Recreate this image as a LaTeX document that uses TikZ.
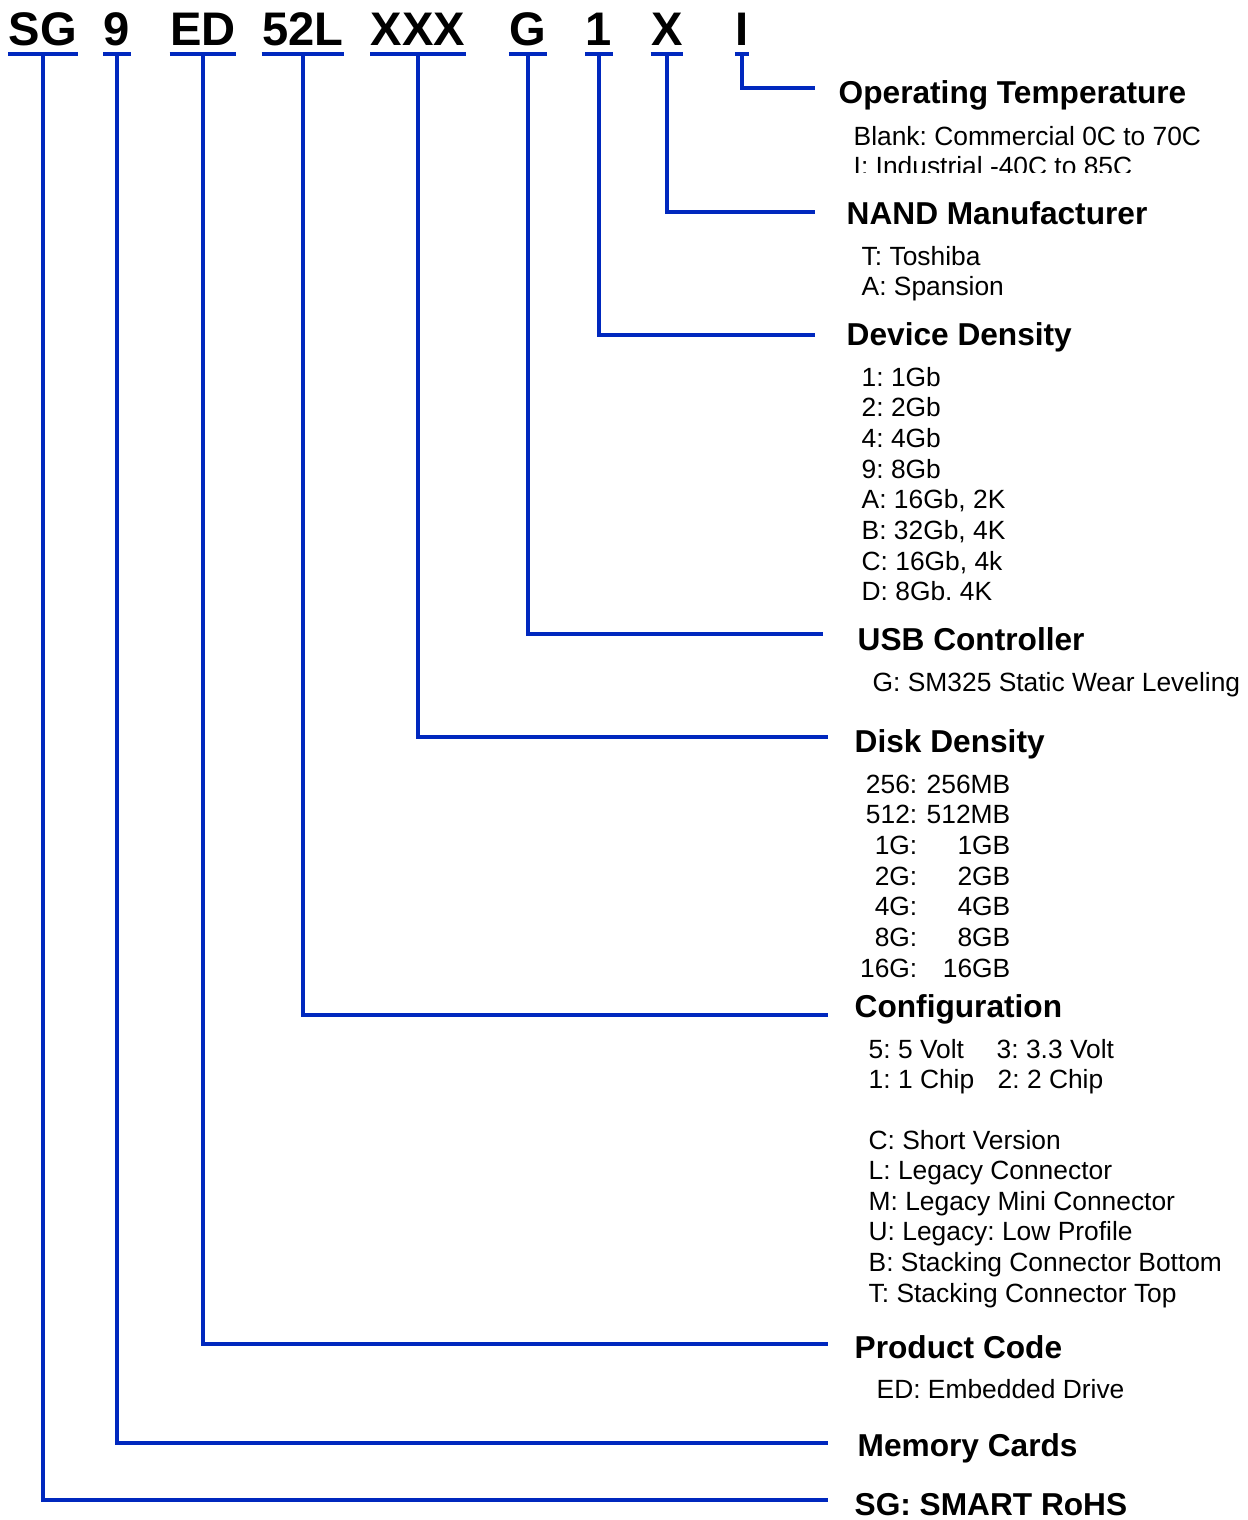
\documentclass[tikz,border=0pt]{standalone}
\usepackage{fontspec}
\setsansfont{Liberation Sans}
\usepackage{xcolor}
\usepackage{tikz}
\usetikzlibrary{positioning,calc}
\definecolor{linkblue}{RGB}{0,40,190}
\frenchspacing

\begin{document}
\begin{tikzpicture}[
  x=0.01cm, y=-0.01cm,
  every node/.style={font=\sffamily}
]
  % Styles
  \tikzstyle{code} = [anchor=base, inner xsep=0pt, inner ysep=0.08cm, text depth=0pt, font=\sffamily\bfseries\fontsize{13.4}{16}\selectfont]
  \tikzstyle{field} = [anchor=base west, inner sep=0pt, font=\sffamily\bfseries\fontsize{9}{11}\selectfont]
  \tikzstyle{item} = [anchor=base west, inner sep=0pt, font=\sffamily\fontsize{7.5}{8.7}\selectfont]
  \tikzstyle{link} = [draw=linkblue, line width=1pt]
  \tikzstyle{uline} = [draw=linkblue, line width=1.2pt]

  \useasboundingbox (0,0) rectangle (1247,1520);

  % Part number
  \node[code] (cSG)  at (43,45)  {SG};
  \node[code] (c9)   at (117,45) {9};
  \node[code] (cED)  at (203,45) {ED};
  \node[code] (c52L) at (303,45) {52L};
  \node[code] (cXXX) at (418,45) {XXX};
  \node[code] (cG)   at (528,45) {G};
  \node[code] (c1)   at (599,45) {1};
  \node[code] (cX)   at (667,45) {X};
  \node[code] (cI)   at (742,45) {I};
  \foreach \c in {cSG,c9,cED,c52L,cXXX,cG,c1,cX,cI}
    \draw[uline] (\c.south west) -- (\c.south east);

  % Operating temperature
  \node[field] (fTemp) at (838,103) {Operating Temperature};
  \node[item] (temp1) at (853,145) {Blank: Commercial 0C to 70C};
  \begin{scope}
    \clip (840,150) rectangle (1247,172);
    \node[item] (temp2) at (853,175) {I: Industrial -40C to 85C};
  \end{scope}

  % NAND manufacturer
  \node[field] (fNand) at (846,224) {NAND Manufacturer};
  \node[item] (nand1) at (861,265) {T: Toshiba};
  \node[item] (nand2) at (861,295) {A: Spansion};

  % Device density
  \node[field] (fDev) at (846,345) {Device Density};
  \foreach \t [count=\i from 0] in {1: 1Gb, 2: 2Gb, 4: 4Gb, 9: 8Gb, {A: 16Gb, 2K}, {B: 32Gb, 4K}, {C: 16Gb, 4k}, {D: 8Gb. 4K}}
    \node[item] (dev\i) at (861,386+30.7*\i) {\t};

  % USB controller
  \node[field] (fUsb) at (857,650) {USB Controller};
  \node[item] (usb1) at (872,691) {G: SM325 Static Wear Leveling};

  % Disk density
  \node[field] (fDisk) at (854,752) {Disk Density};
  \foreach \k/\v [count=\i from 0] in {256/256MB, 512/512MB, 1G/1GB, 2G/2GB, 4G/4GB, 8G/8GB, 16G/16GB} {
    \node[item, anchor=base east] (diskK\i) at (918,793+30.7*\i) {\k:};
    \node[item, anchor=base east] (diskV\i) at (1011,793+30.7*\i) {\v};
  }

  % Configuration
  \node[field] (fConf) at (854,1017) {Configuration};
  \node[item] (conf1) at (868,1058) {5: 5 Volt};
  \node[item] (conf2) at (996,1058) {3: 3.3 Volt};
  \node[item] (conf3) at (868,1088) {1: 1 Chip};
  \node[item] (conf4) at (997,1088) {2: 2 Chip};
  \foreach \t [count=\i from 0] in {C: Short Version, L: Legacy Connector, M: Legacy Mini Connector, U: Legacy: Low Profile, B: Stacking Connector Bottom, T: Stacking Connector Top}
    \node[item] (conn\i) at (868,1149+30.6*\i) {\t};

  % Product code
  \node[field] (fProd) at (854,1358) {Product Code};
  \node[item] (prod1) at (876,1398) {ED: Embedded Drive};

  % Memory cards, SMART
  \node[field] (fMem) at (857,1456) {Memory Cards};
  \node[field] (fSmart) at (854,1515) {SG: SMART RoHS};

  % Connectors
  \coordinate (eTemp)  at (815,88);
  \coordinate (eNand)  at (815,212);
  \coordinate (eDev)   at (815,335);
  \coordinate (eUsb)   at (823,634);
  \coordinate (eDisk)  at (828,737);
  \coordinate (eConf)  at (828,1015);
  \coordinate (eProd)  at (828,1344);
  \coordinate (eMem)   at (828,1443);
  \coordinate (eSmart) at (828,1500);
  \draw[link] (cI.south)   |- (eTemp);
  \draw[link] (cX.south)   |- (eNand);
  \draw[link] (c1.south)   |- (eDev);
  \draw[link] (cG.south)   |- (eUsb);
  \draw[link] (cXXX.south) |- (eDisk);
  \draw[link] (c52L.south) |- (eConf);
  \draw[link] (cED.south)  |- (eProd);
  \draw[link] (c9.south)   |- (eMem);
  \draw[link] (cSG.south)  |- (eSmart);
\end{tikzpicture}
\end{document}
